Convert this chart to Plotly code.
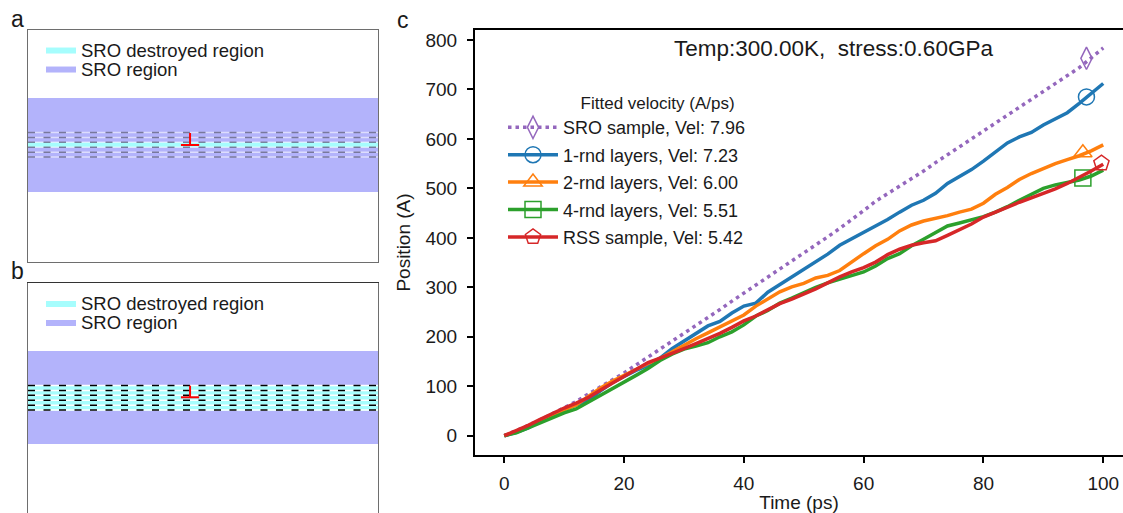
import plotly.graph_objects as go

W, H = 1123, 513

# ---------------- panel c data ----------------
time_ps = [0, 2, 4, 6, 8, 10, 12, 14, 16, 18, 20, 22, 24, 26, 28, 30, 32, 34, 36, 38,
           40, 42, 44, 46, 48, 50, 52, 54, 56, 58, 60, 62, 64, 66, 68, 70, 72, 74, 76, 78,
           80, 82, 84, 86, 88, 90, 92, 94, 96, 98, 100]

pos_sro = [0, 10, 21, 32, 44, 56, 69, 84, 98, 112, 127, 143, 159, 175, 191, 206, 221, 238, 255, 272,
           288, 305, 321, 338, 354, 370, 386, 402, 419, 436, 455, 474, 489, 504, 519, 535, 552, 568, 584, 600,
           616, 632, 648, 665, 681, 697, 712, 728, 744, 764, 784]

pos_1rnd = [0, 7, 16, 30, 43, 54, 62, 71, 90, 107, 120, 132, 142, 157, 176, 192, 208, 222, 231, 248,
            262, 268, 290, 305, 320, 335, 350, 367, 385, 398, 410, 425, 437, 452, 466, 476, 490, 510, 524, 538,
            555, 574, 592, 604, 613, 628, 641, 653, 672, 692, 712]

pos_2rnd = [0, 9, 20, 31, 42, 52, 62, 80, 96, 110, 122, 134, 146, 156, 170, 183, 196, 208, 220, 232,
            244, 262, 276, 291, 301, 308, 319, 324, 334, 352, 368, 384, 397, 414, 426, 434, 439, 445, 452, 458,
            470, 488, 502, 518, 530, 540, 550, 558, 566, 576, 588]

pos_4rnd = [0, 6, 16, 26, 37, 46, 54, 68, 82, 96, 110, 122, 136, 152, 165, 175, 181, 188, 200, 210,
            224, 242, 253, 268, 278, 289, 300, 309, 316, 323, 331, 343, 358, 368, 384, 397, 411, 424, 430, 436,
            443, 452, 463, 476, 488, 500, 507, 512, 517, 525, 537]

pos_rss = [0, 10, 21, 33, 45, 56, 66, 77, 92, 106, 120, 135, 148, 157, 166, 176, 186, 196, 207, 219,
           232, 242, 255, 267, 276, 286, 297, 309, 321, 331, 340, 351, 366, 377, 385, 390, 394, 405, 416, 428,
           442, 452, 463, 472, 481, 490, 499, 510, 522, 535, 549]

series_labels = ["SRO sample, Vel: 7.96", "1-rnd layers, Vel: 7.23", "2-rnd layers, Vel: 6.00",
                 "4-rnd layers, Vel: 5.51", "RSS sample, Vel: 5.42"]
series_values = [pos_sro, pos_1rnd, pos_2rnd, pos_4rnd, pos_rss]
series_colors = ["#9467bd", "#1f77b4", "#ff7f0e", "#2ca02c", "#d62728"]
series_symbols = ["diamond-tall-open", "circle-open", "triangle-up-open", "square-open", "pentagon-open"]
series_dash = ["3.5px,4px", "solid", "solid", "solid", "solid"]
marker_time = [97.2, 97.2, 96.6, 96.6, 99.7]
marker_pos = [763, 685, 572, 521, 551]

x_ticks = [0, 20, 40, 60, 80, 100]
y_ticks = [0, 100, 200, 300, 400, 500, 600, 700, 800]

# ---------------- panels a / b data ----------------
layer_y = [104.9, 109.8, 114.8, 119.7, 124.6, 129.5]
sro_band_a = [70, 164]
sro_band_b = [71, 164]
destroyed_a = [114.8, 119.7]
destroyed_b = [104.3, 129.7]
disl_x = 0.463
disl_halfwidth = 0.026
disl_a = [129.0, 117.0]   # top, base
disl_b = [129.3, 117.7]

FONT = "Arial, Liberation Sans, Helvetica, sans-serif"
PURPLE_BAND = "rgb(179,179,251)"
CYAN_BAND = "rgb(166,253,253)"


def px(x):
    return x / W


def py(y):
    return 1 - y / H


fig = go.Figure()

# ---- panel c traces ----
for lab, vals, col, sym, dash, mt, mp in zip(series_labels, series_values, series_colors,
                                             series_symbols, series_dash, marker_time, marker_pos):
    fig.add_trace(go.Scatter(x=time_ps, y=vals, mode="lines", name=lab, legendgroup=lab,
                             showlegend=False, line=dict(color=col, width=3.5, dash=dash),
                             xaxis="x", yaxis="y"))
    fig.add_trace(go.Scatter(x=[mt], y=[mp], mode="lines+markers", name=lab, legendgroup=lab,
                             showlegend=True,
                             line=dict(color=col, width=3.5, dash=dash),
                             marker=dict(symbol=sym, size=16, color=col, line=dict(color=col, width=1.5)),
                             xaxis="x", yaxis="y", legend="legend"))


# ---- panels a/b traces ----
def add_panel(xa, ya, band, destroyed, disl, leg_cyan, leg_purple, dash_color, white_color):
    fig.add_trace(go.Scatter(x=[0, 1, 1, 0, 0], y=[band[0], band[0], band[1], band[1], band[0]],
                             fill="toself", fillcolor=PURPLE_BAND, mode="lines",
                             line=dict(width=0, color=PURPLE_BAND), name="SRO region",
                             xaxis=xa, yaxis=ya, legend=leg_purple, hoverinfo="skip"))
    fig.add_trace(go.Scatter(x=[0, 1, 1, 0, 0],
                             y=[destroyed[0], destroyed[0], destroyed[1], destroyed[1], destroyed[0]],
                             fill="toself", fillcolor=CYAN_BAND, mode="lines",
                             line=dict(width=0, color=CYAN_BAND), name="SRO destroyed region",
                             xaxis=xa, yaxis=ya, legend=leg_cyan, hoverinfo="skip"))
    lx, ly = [], []
    for yv in layer_y:
        lx += [0, 1, None]
        ly += [yv, yv, None]
    fig.add_trace(go.Scatter(x=lx, y=ly, mode="lines", line=dict(color=white_color, width=1.5),
                             showlegend=False, xaxis=xa, yaxis=ya, hoverinfo="skip"))
    fig.add_trace(go.Scatter(x=lx, y=ly, mode="lines",
                             line=dict(color=dash_color, width=1.5, dash="7px,8.5px"),
                             showlegend=False, xaxis=xa, yaxis=ya, hoverinfo="skip"))
    fig.add_trace(go.Scatter(x=[disl_x, disl_x, None, disl_x - disl_halfwidth, disl_x + disl_halfwidth],
                             y=[disl[0], disl[1], None, disl[1], disl[1]], mode="lines",
                             line=dict(color="#ff0000", width=2), showlegend=False,
                             xaxis=xa, yaxis=ya, hoverinfo="skip"))


add_panel("x2", "y2", sro_band_a, destroyed_a, disl_a, "legend2", "legend3",
          "rgba(20,20,60,0.5)", "rgba(255,255,255,0.55)")
add_panel("x3", "y3", sro_band_b, destroyed_b, disl_b, "legend4", "legend5",
          "rgba(0,0,0,1)", "rgba(255,255,255,1)")

frame_col = "#6e6e6e"
common_off = dict(showgrid=False, zeroline=False, showticklabels=False, ticks="", automargin=False,
                  fixedrange=True)

layout = dict(
    width=W, height=H, margin=dict(l=0, r=0, t=0, b=0),
    paper_bgcolor="white", plot_bgcolor="rgba(0,0,0,0)",
    font=dict(family=FONT, color="#1a1a1a"),
    xaxis=dict(domain=[px(475), 1.0], range=[-4.89, 103.3], tickvals=x_ticks, ticks="outside",
               ticklen=6, tickwidth=2, tickcolor="black", showline=True, linewidth=2, linecolor="black",
               mirror=True, showgrid=False, zeroline=False, automargin=False,
               tickfont=dict(size=19, family=FONT, color="#1a1a1a"), ticklabelstandoff=4,
               title=dict(text="Time (ps)", font=dict(size=19, family=FONT), standoff=5)),
    yaxis=dict(domain=[py(455), py(30)], range=[-39.0, 820.2], tickvals=y_ticks, ticks="outside",
               ticklen=6, tickwidth=2, tickcolor="black", showline=True, linewidth=2, linecolor="black",
               mirror=False, showgrid=False, zeroline=False, automargin=False,
               tickfont=dict(size=19, family=FONT, color="#1a1a1a"), ticklabelstandoff=6,
               title=dict(text="Position (A)", font=dict(size=19, family=FONT), standoff=10)),
    xaxis2=dict(domain=[px(28), px(378)], range=[0, 1], showline=True, linewidth=1, linecolor=frame_col,
                mirror=True, anchor="y2", **common_off),
    yaxis2=dict(domain=[py(262), py(30)], range=[0, 232], showline=True, linewidth=1, linecolor=frame_col,
                mirror=True, anchor="x2", **common_off),
    xaxis3=dict(domain=[px(28), px(378)], range=[0, 1], showline=True, linewidth=1, linecolor="#333333",
                mirror=False, side="top", anchor="y3", **common_off),
    yaxis3=dict(domain=[0, py(283)], range=[2, 232], showline=True, linewidth=1, linecolor=frame_col,
                mirror=True, anchor="x3", **common_off),
    showlegend=True,
    legend=dict(x=px(503), y=py(87), xanchor="left", yanchor="top", bgcolor="rgba(0,0,0,0)",
                font=dict(size=18, family=FONT, color="#1a1a1a"), itemwidth=50, tracegroupgap=1,
                title=dict(text="\u00a0" * 16 + "Fitted velocity (A/ps)", font=dict(size=17, family=FONT),
                           side="top")),
)

small_leg = dict(xanchor="left", yanchor="middle", bgcolor="rgba(0,0,0,0)", itemwidth=30,
                 font=dict(size=18.5, family=FONT, color="#1a1a1a"))
layout["legend2"] = dict(x=px(41), y=py(50), **small_leg)
layout["legend3"] = dict(x=px(41), y=py(69), **small_leg)
layout["legend4"] = dict(x=px(41), y=py(303.5), **small_leg)
layout["legend5"] = dict(x=px(41), y=py(322.5), **small_leg)

fig.update_layout(**layout)

# panel title and panel letters
fig.add_annotation(x=px(833), y=py(48), xref="paper", yref="paper", text="Temp:300.00K,\u00a0 stress:0.60GPa",
                   showarrow=False, font=dict(size=22.5, family=FONT, color="#1a1a1a"),
                   xanchor="center", yanchor="middle")
for letter, lx_, ly_ in [("a", 17, 19), ("b", 17, 271), ("c", 403, 20)]:
    fig.add_annotation(x=px(lx_), y=py(ly_), xref="paper", yref="paper", text=letter, showarrow=False,
                       font=dict(size=23, family=FONT, color="#1a1a1a"), xanchor="center", yanchor="middle")

fig.write_html("out.html", config={"displayModeBar": False},
               post_script="document.body.style.margin='0px';document.body.style.overflow='hidden';")
